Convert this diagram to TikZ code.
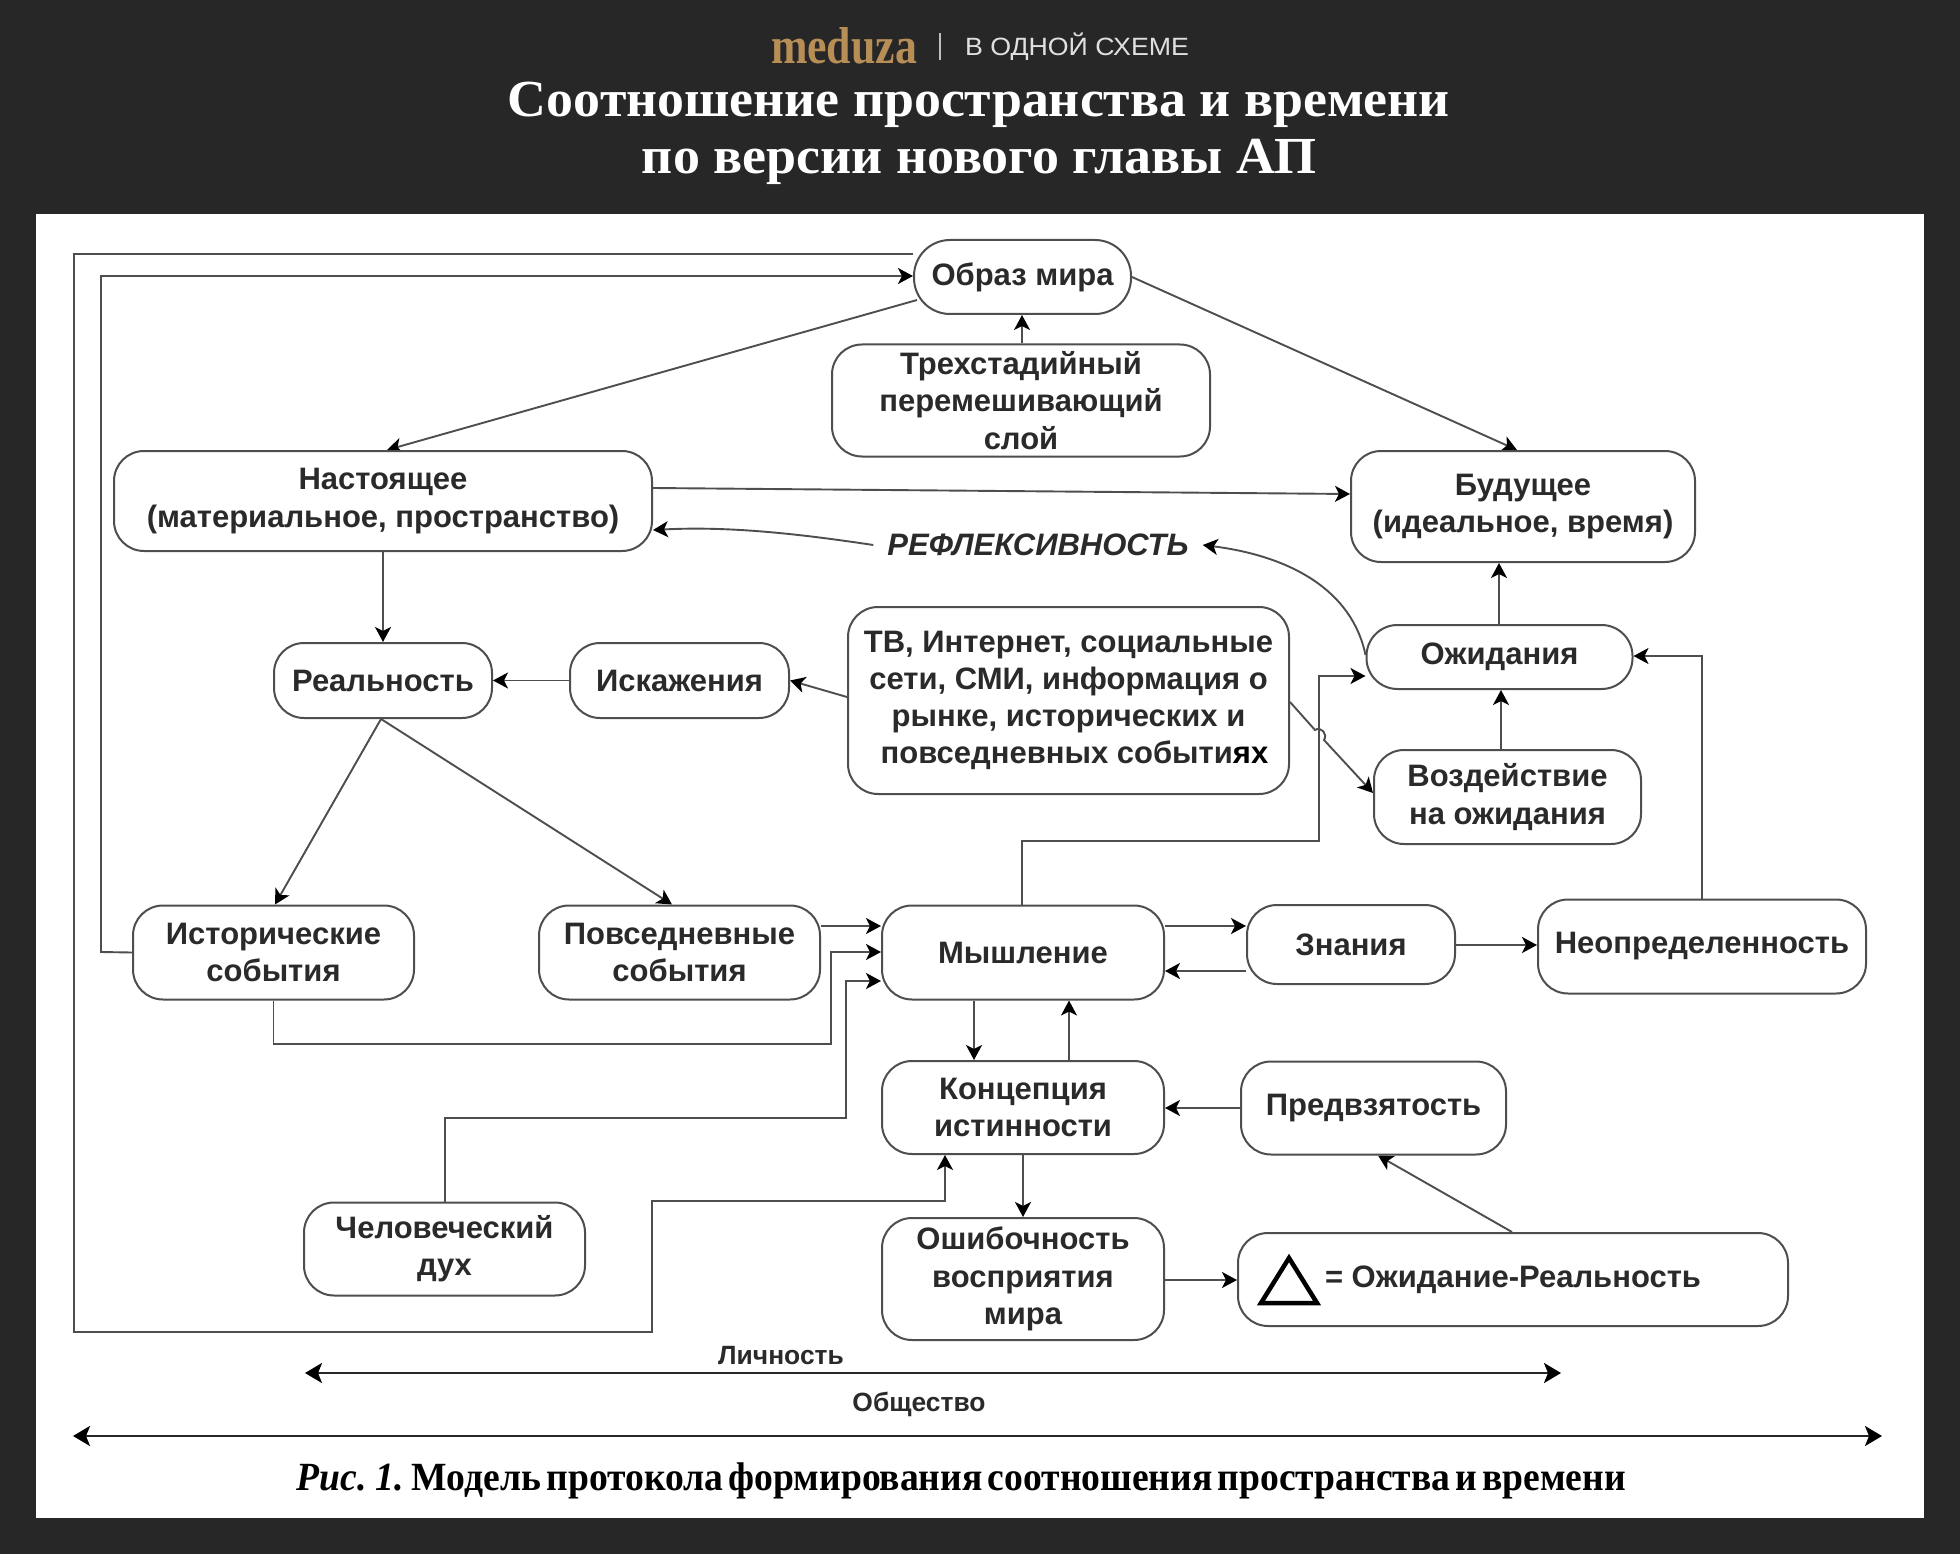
\documentclass[tikz,border=0pt]{standalone}
\usepackage{fontspec}
\setmainfont{Liberation Sans}
\newfontfamily\serifbold{Liberation Serif}
\usetikzlibrary{arrows.meta,backgrounds}
\definecolor{bgdark}{HTML}{272727}
\definecolor{lineg}{HTML}{4E4E4E}
\definecolor{txt}{HTML}{2A2A2A}
\definecolor{gold}{HTML}{B88E57}
\tikzset{
  boxn/.style={draw=lineg,line width=2pt,fill=white,rounded corners=30pt,align=center,text=txt,inner sep=0pt,
    font=\fontsize{31}{37.2}\selectfont\bfseries},
  conn/.style={draw=lineg,line width=1.9pt},
  arr/.style={conn,-{Stealth[length=15pt,width=16pt,inset=4pt,color=black]}},
  both/.style={draw=black!85,line width=2.6pt,{Stealth[length=17pt,width=20pt,inset=4pt,color=black]}-{Stealth[length=17pt,width=20pt,inset=4pt,color=black]}},
  smalllab/.style={text=txt,inner sep=0pt,font=\fontsize{26.4}{30}\selectfont\bfseries}
}
\begin{document}
\begin{tikzpicture}[x=1pt,y=-1pt]
\useasboundingbox (0,0) rectangle (1960,1554);
% header
\node[inner sep=0pt,text=gold] (logo) at (844,46) {\resizebox{146pt}{36pt}{\serifbold\bfseries meduza}};
\coordinate (sepa) at (940,33);
\coordinate (sepb) at (940,60);
\draw[draw=white!75!black,line width=1.2pt] (sepa) -- (sepb);
\node[inner sep=0pt,text=white!88!black] (kicker) at (1077,47) {\resizebox{224pt}{\height}{\fontsize{25}{30}\selectfont В ОДНОЙ СХЕМЕ}};
\node[inner sep=0pt,text=white] (title1) at (979,105) {\resizebox{942pt}{\height}{\serifbold\bfseries\fontsize{52}{56}\selectfont Соотношение пространства и времени}};
\node[inner sep=0pt,text=white] (title2) at (979,162) {\resizebox{674pt}{\height}{\serifbold\bfseries\fontsize{52}{56}\selectfont по версии нового главы АП}};
% nodes
\node[boxn,minimum width=217pt,minimum height=74pt,rounded corners=36pt] (obraz) at (1022.5,277) {Образ мира};
\node[boxn,minimum width=378pt,minimum height=112pt] (trekh) at (1021,400.5) {Трехстадийный\\перемешивающий\\слой};
\node[boxn,minimum width=538pt,minimum height=100pt] (nast) at (383,501) {Настоящее\\(материальное, пространство)};
\node[boxn,minimum width=344pt,minimum height=111pt] (bud) at (1523,506.5) {Будущее\\(идеальное, время)};
\node[boxn,minimum width=218pt,minimum height=75pt] (real) at (383,680.5) {Реальность};
\node[boxn,minimum width=219pt,minimum height=75pt] (isk) at (679.5,680.5) {Искажения};
\node[boxn,minimum width=441pt,minimum height=187pt] (tv) at (1068.5,700.5) {ТВ, Интернет, социальные\\сети, СМИ, информация о\\рынке, исторических и\\\hspace*{12pt}повседневных событи\textcolor{black}{ях}};
\node[boxn,minimum width=266pt,minimum height=64pt,rounded corners=31pt] (ozh) at (1499.5,657) {Ожидания};
\node[boxn,minimum width=267pt,minimum height=94pt] (vozd) at (1507.5,797) {Воздействие\\на ожидания};
\node[boxn,minimum width=281pt,minimum height=94pt] (ist) at (273.5,952.5) {Исторические\\события};
\node[boxn,minimum width=281pt,minimum height=94pt] (pov) at (679.5,952.5) {Повседневные\\события};
\node[boxn,minimum width=282pt,minimum height=94pt] (mysh) at (1023,952.5) {Мышление};
\node[boxn,minimum width=208pt,minimum height=79pt] (zn) at (1351,944.5) {Знания};
\node[boxn,minimum width=328pt,minimum height=94pt] (neop) at (1702,946.5) {Неопределенность};
\node[boxn,minimum width=282pt,minimum height=93pt] (konc) at (1023,1107.5) {Концепция\\истинности};
\node[boxn,minimum width=265pt,minimum height=93pt] (pred) at (1373.5,1108) {Предвзятость};
\node[boxn,minimum width=281pt,minimum height=93pt] (chel) at (444.5,1249) {Человеческий\\дух};
\node[boxn,minimum width=282pt,minimum height=122pt] (osh) at (1023,1279) {Ошибочность\\восприятия\\мира};
\node[boxn,minimum width=550pt,minimum height=93pt] (delta) at (1513,1279.5) {= Ожидание-Реальность};
\coordinate (ta) at (1289,1258);
\coordinate (tb) at (1261,1303);
\coordinate (tc) at (1317,1303);
\draw[black,line width=4.5pt,line join=miter] (ta) -- (tb) -- (tc) -- cycle;
\node[inner xsep=14pt,inner ysep=0pt,text=txt,font=\fontsize{31}{36}\selectfont\bfseries\itshape] (refl) at (1038,545) {РЕФЛЕКСИВНОСТЬ};
\node[smalllab] (lich) at (781,1356) {Личность};
\node[smalllab] (obsh) at (919,1404) {Общество};
\node[inner sep=0pt,text=black] (capt) at (961.5,1481) {\resizebox{1329pt}{\height}{\serifbold\bfseries\fontsize{40}{44}\selectfont \spaceskip=.14em \textit{Рис. 1.} Модель протокола формирования соотношения пространства и времени}};
% connectors
\coordinate (lichl) at (305,1373);
\coordinate (lichr) at (1561,1373);
\coordinate (obshl) at (73,1436);
\coordinate (obshr) at (1882,1436);
\begin{scope}[on background layer]
\fill[bgdark] (0,0) rectangle (1960,1554);
\fill[white] (36,214) rectangle (1924,1518);
\draw[arr,rounded corners=0pt] (obraz.west |- 0,254) -- (74,254) -- (74,1332) -- (652,1332) -- (652,1201) -- (945,1201) -- (konc.south -| 945,0);
\draw[arr] (ist.west) -- (101,952) -- (101,276) -- (obraz.west |- 0,276);
\draw[arr] (917,300) -- (nast.north -| 387,0);
\draw[arr] (obraz.east) -- (bud.north -| 1517,0);
\draw[arr] (trekh.north -| 1022,0) -- (obraz.south -| 1022,0);
\draw[arr] (nast.east |- 0,488) -- (bud.west |- 0,494);
\draw[arr] (refl.west) .. controls (800,534) and (730,526) .. (nast.east |- 0,530);
\draw[arr] (ozh.west |- 0,655) .. controls (1352,590) and (1290,556) .. (refl.east);
\draw[arr] (nast.south) -- (real.north);
\draw[arr] (isk.west) -- (real.east);
\draw[arr] (tv.west |- 0,697) -- (isk.east);
\draw[arr] (381,719) -- (ist.north -| 275,0);
\draw[arr] (381,719) -- (pov.north -| 672,0);
\draw[arr] (ozh.north -| 1499,0) -- (bud.south -| 1499,0);
\draw[arr] (vozd.north -| 1501,0) -- (ozh.south -| 1501,0);
\draw[arr] (tv.east |- 0,702) -- (1315,730) .. controls (1321,726) and (1328,734) .. (1324,740) -- (vozd.west |- 0,793);
\draw[arr] (mysh.north -| 1022,0) -- (1022,841) -- (1319,841) -- (1319,676) -- (ozh.west |- 0,676);
\draw[arr] (neop.north) -- (1702,656) -- (ozh.east |- 0,656);
\draw[arr] (zn.east |- 0,945) -- (neop.west |- 0,945);
\draw[arr] (mysh.east |- 0,926) -- (zn.west |- 0,926);
\draw[arr] (zn.west |- 0,971) -- (mysh.east |- 0,971);
\draw[arr] (pov.east |- 0,926) -- (mysh.west |- 0,926);
\draw[arr] (ist.south) -- (273.5,1044) -- (831,1044) -- (831,952) -- (mysh.west |- 0,952);
\draw[arr] (chel.north -| 445,0) -- (445,1118) -- (846,1118) -- (846,981) -- (mysh.west |- 0,981);
\draw[arr] (mysh.south -| 974,0) -- (konc.north -| 974,0);
\draw[arr] (konc.north -| 1069,0) -- (mysh.south -| 1069,0);
\draw[arr] (pred.west |- 0,1108) -- (konc.east |- 0,1108);
\draw[arr] (konc.south) -- (osh.north);
\draw[arr] (osh.east |- 0,1280) -- (delta.west |- 0,1280);
\draw[arr] (delta.north -| 1512,0) -- (pred.south -| 1378,0);
\draw[both] (lichl) -- (lichr);
\draw[both] (obshl) -- (obshr);
\end{scope}
\end{tikzpicture}
\end{document}
